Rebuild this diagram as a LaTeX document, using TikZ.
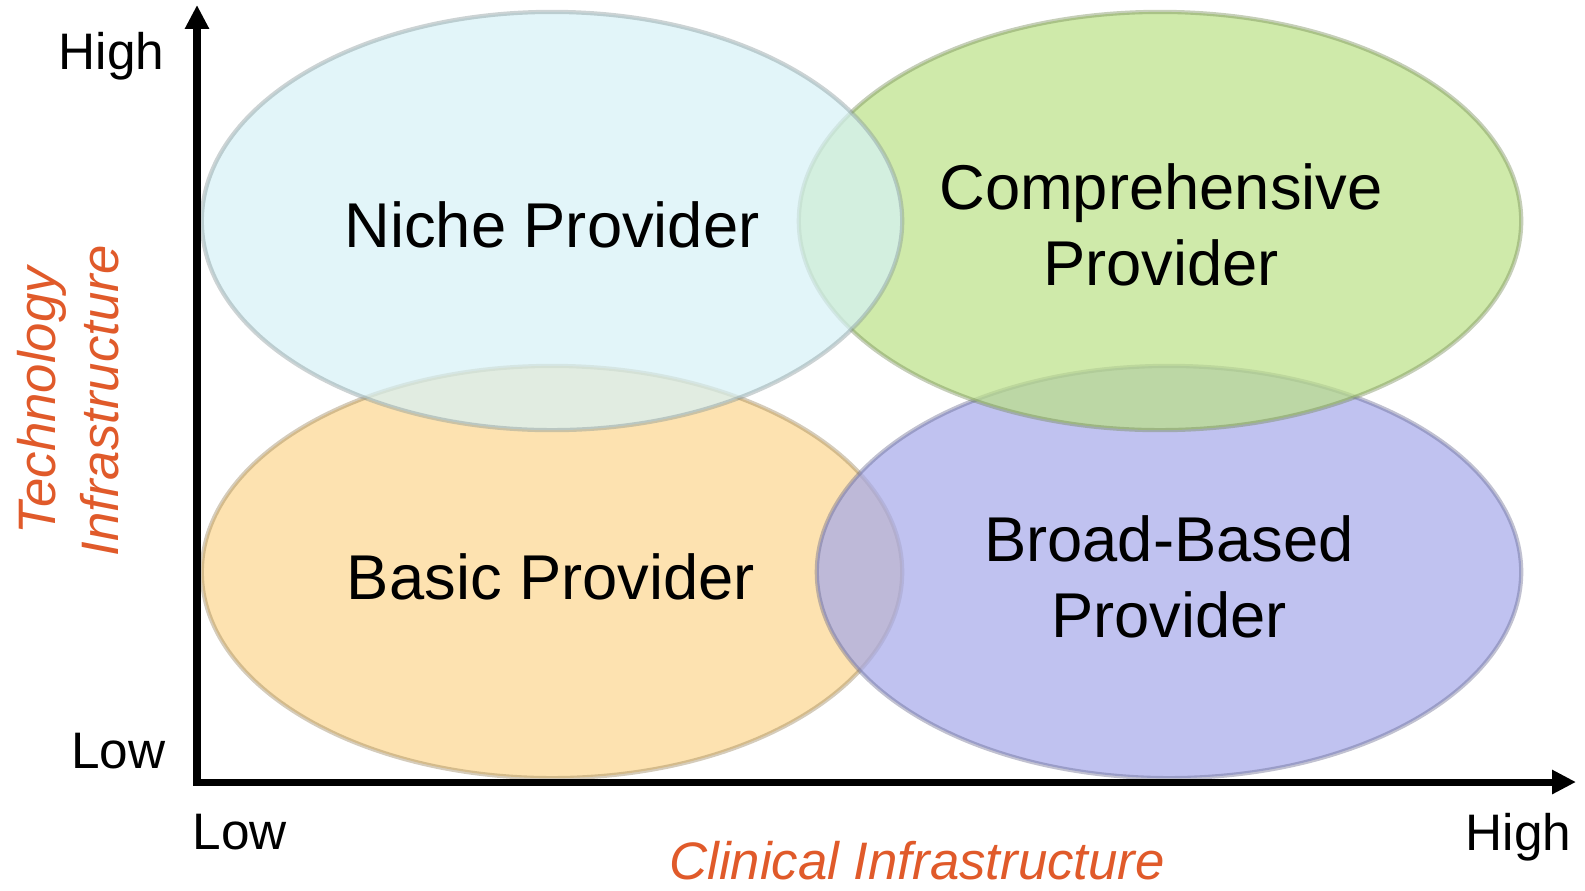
\documentclass[tikz,border=0pt]{standalone}
\usepackage{fontspec}
\setmainfont{Liberation Sans}
\usetikzlibrary{shapes.geometric,arrows.meta}

\definecolor{nicheblue}{RGB}{214,241,246}
\definecolor{comprehensivegreen}{RGB}{187,225,134}
\definecolor{basicorange}{RGB}{252,214,142}
\definecolor{broadpurple}{RGB}{165,168,234}
\definecolor{axisorange}{RGB}{224,90,42}

\tikzset{
	zone/.style={ellipse, inner sep=0pt, fill=#1, fill opacity=0.7, draw=#1!60!black, draw opacity=0.4, line width=1.2pt},
	provider/.style={inner sep=0pt, align=center, font=\fontsize{18}{21.8}\selectfont},
	level/.style={inner sep=0pt, font=\fontsize{14.6}{17.5}\selectfont},
	axisname/.style={inner sep=0pt, align=center, text=axisorange, font=\fontsize{15}{18}\selectfont\itshape},
	axis/.style={line width=2pt, line join=miter, {Triangle[length=6.8pt,width=6.5pt]}-{Triangle[length=6.8pt,width=6.5pt]}}
}

\begin{document}
\begin{tikzpicture}[x=0.01cm, y=-0.01cm]
		\useasboundingbox (0,0) rectangle (1585,890);
		% Zones:
		\node[zone=basicorange, minimum width=7cm, minimum height=4.12cm] (basic) at (552,572){};
		\node[zone=broadpurple, minimum width=7.04cm, minimum height=4.12cm] (broad) at (1169,572){};
		\node[zone=comprehensivegreen, minimum width=7.22cm, minimum height=4.18cm] (comprehensive) at (1160,221){};
		\node[zone=nicheblue, minimum width=7cm, minimum height=4.18cm] (niche) at (552,221){};
		% Zone labels:
		\node[provider, anchor=base] (nichetext) at (552,247){Niche Provider};
		\node[provider] (comprehensivetext) at (1161,225){Comprehensive\\Provider};
		\node[provider, anchor=base] (basictext) at (551,599){Basic Provider};
		\node[provider] (broadtext) at (1169,577){Broad-Based\\Provider};
		% Axes:
		\coordinate (origin) at (197,782);
		\coordinate (ytip) at (197,5);
		\coordinate (xtip) at (1576,782);
		\draw[axis] (ytip) -- (origin) -- (xtip);
		\node[level, anchor=base east] (yhigh) at (165,69){High};
		\node[level, anchor=base east] (ylow) at (166,768){Low};
		\node[level, anchor=base west] (xlow) at (192,849){Low};
		\node[level, anchor=base east] (xhigh) at (1572,850){High};
		\node[axisname, anchor=base] (xname) at (917,879){Clinical Infrastructure};
		\node[axisname, rotate=90] (yname) at (68,401){Technology\\Infrastructure};
	\end{tikzpicture}
\end{document}
